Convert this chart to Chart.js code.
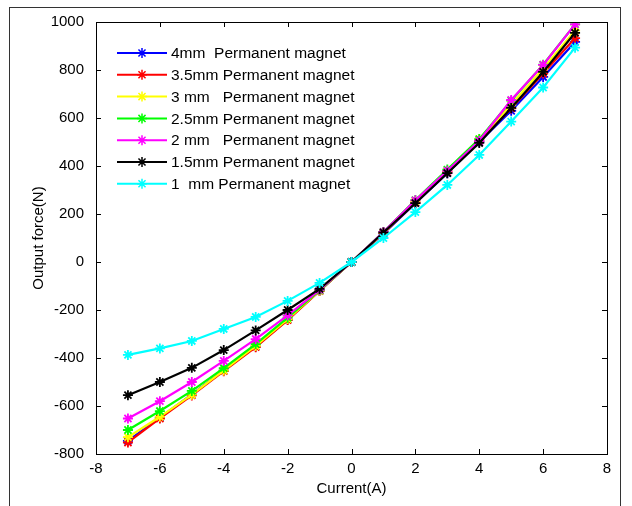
<!DOCTYPE html>
<html>
<head>
<meta charset="utf-8">
<script src="https://cdn.jsdelivr.net/npm/chart.js@4.4.1/dist/chart.umd.min.js"></script>
<style>
  body { margin: 0; background: #fff; }
  #wrap { width: 632px; height: 506px; }
</style>
</head>
<body>
<div id="wrap"><canvas id="myChart" width="632" height="506"></canvas></div>
<script>
// current values (A)
let CURRENT = [-7, -6, -5, -4, -3, -2, -1, 0, 1, 2, 3, 4, 5, 6, 7]

// output force (N) per magnet thickness
let MM_4 = [-745, -648, -552, -452, -352, -240, -120, 0, 118, 245, 370, 500, 630, 771, 917]
let MM_3_5 = [-752, -652, -556, -455, -355, -242, -121, 0, 120, 248, 375, 505, 640, 785, 933]
let MM_3 = [-730, -645, -553, -452, -350, -238, -120, 0, 122, 252, 380, 512, 655, 805, 965]
let MM_2_5 = [-700, -621, -537, -442, -342, -232, -118, 0, 125, 258, 385, 512, 672, 822, 990]
let MM_2 = [-652, -580, -500, -412, -321, -222, -116, 0, 125, 257, 380, 505, 675, 821, 990]
let MM_1_5 = [-555, -500, -441, -367, -285, -200, -112, 0, 123, 245, 370, 496, 642, 792, 955]
let MM_1 = [-387, -360, -329, -279, -229, -162, -87, 0, 100, 208, 321, 446, 585, 727, 893]

let LABELS = ['4mm  Permanent magnet', '3.5mm Permanent magnet', '3 mm   Permanent magnet',
    '2.5mm Permanent magnet', '2 mm   Permanent magnet', '1.5mm Permanent magnet', '1  mm Permanent magnet']
let COLORS = ['#0000ff', '#ff0000', '#ffff00', '#00ff00', '#ff00ff', '#000000', '#00ffff']

let X_MIN = -8, X_MAX = 8, X_STEP = 2
let Y_MIN = -800, Y_MAX = 1000, Y_STEP = 200

let FONT = "'Liberation Sans', Arial, sans-serif"

let SERIES = [MM_4, MM_3_5, MM_3, MM_2_5, MM_2, MM_1_5, MM_1]

// matlab style frame + boxed axes with inward ticks
let boxPlugin = {
    id: 'box',
    beforeDraw(chart) {
        let c = chart.ctx
        c.save()
        c.fillStyle = '#fff'
        c.fillRect(0, 0, chart.width, chart.height)
        c.strokeStyle = '#333'
        c.lineWidth = 1
        c.strokeRect(9.5, 7.5, chart.width - 21, chart.height + 10)
        c.restore()
    },
    afterDatasetsDraw(chart) {
        let c = chart.ctx
        let a = chart.chartArea
        let xs = chart.scales.x
        let ys = chart.scales.y
        c.save()
        c.strokeStyle = '#000'
        c.lineWidth = 1
        c.strokeRect(Math.round(a.left) + 0.5, Math.round(a.top) + 0.5,
            Math.round(a.right - a.left), Math.round(a.bottom - a.top))
        c.beginPath()
        xs.ticks.forEach(t => {
            let px = Math.round(xs.getPixelForValue(t.value)) + 0.5
            c.moveTo(px, a.bottom); c.lineTo(px, a.bottom - 5)
            c.moveTo(px, a.top); c.lineTo(px, a.top + 5)
        })
        ys.ticks.forEach(t => {
            let py = Math.round(ys.getPixelForValue(t.value)) + 0.5
            c.moveTo(a.left, py); c.lineTo(a.left + 5, py)
            c.moveTo(a.right, py); c.lineTo(a.right - 5, py)
        })
        c.stroke()
        c.restore()
    }
}

// legend in the upper left of the axes, no border
let legendPlugin = {
    id: 'innerLegend',
    afterDraw(chart) {
        let c = chart.ctx
        let a = chart.chartArea
        c.save()
        c.font = '15.5px ' + FONT
        c.textBaseline = 'middle'
        c.textAlign = 'left'
        chart.data.datasets.forEach((ds, i) => {
            let y = a.top + 31 + i * 21.8
            let x0 = a.left + 21
            let x1 = a.left + 71
            c.strokeStyle = ds.borderColor
            c.lineWidth = 2
            c.beginPath()
            c.moveTo(x0, y); c.lineTo(x1, y)
            c.stroke()
            c.fillStyle = ds.borderColor
            c.lineWidth = 1.5
            Chart.helpers.drawPoint(c, { pointStyle: 'star', radius: 5, rotation: 0, borderWidth: 1.5 }, (x0 + x1) / 2, y)
            c.fillStyle = '#000'
            c.fillText(ds.label, a.left + 75, y + 1)
        })
        c.restore()
    }
}

let ctx = document.getElementById('myChart')

let myChart = new Chart(ctx, {
    type: 'line',
    data: {
        labels: CURRENT,
        datasets: SERIES.map((s, i) => ({
            label: LABELS[i],
            data: s.map((v, j) => ({ x: CURRENT[j], y: v })),
            borderColor: COLORS[i],
            backgroundColor: COLORS[i],
            borderWidth: 2.2,
            pointStyle: 'star',
            pointRadius: 5,
            pointBorderWidth: 1.8,
            pointBorderColor: COLORS[i],
            fill: false,
            tension: 0,
            order: 7 - i
        }))
    },
    options: {
        responsive: false,
        animation: false,
        events: [],
        layout: { padding: { left: 9, top: 22, right: 25, bottom: 0 } },
        plugins: {
            legend: { display: false },
            tooltip: { enabled: false }
        },
        scales: {
            x: {
                type: 'linear',
                min: X_MIN,
                max: X_MAX,
                afterFit: (scale) => { scale.height = 52 },
                grid: { display: false },
                border: { display: false },
                ticks: {
                    stepSize: X_STEP,
                    color: '#000',
                    padding: -2,
                    maxRotation: 0,
                    font: { family: FONT, size: 15 }
                },
                title: {
                    display: true,
                    text: 'Current(A)',
                    color: '#000',
                    padding: { top: 0, bottom: 8 },
                    font: { family: FONT, size: 15 }
                }
            },
            y: {
                min: Y_MIN,
                max: Y_MAX,
                afterFit: (scale) => { scale.width = 87 },
                grid: { display: false },
                border: { display: false },
                ticks: {
                    stepSize: Y_STEP,
                    color: '#000',
                    padding: 4,
                    font: { family: FONT, size: 15 },
                    callback: (v) => String(v)
                },
                title: {
                    display: true,
                    text: 'Output force(N)',
                    color: '#000',
                    padding: { top: 21, bottom: 0 },
                    font: { family: FONT, size: 15 }
                }
            }
        }
    },
    plugins: [boxPlugin, legendPlugin]
});
</script>
</body>
</html>
